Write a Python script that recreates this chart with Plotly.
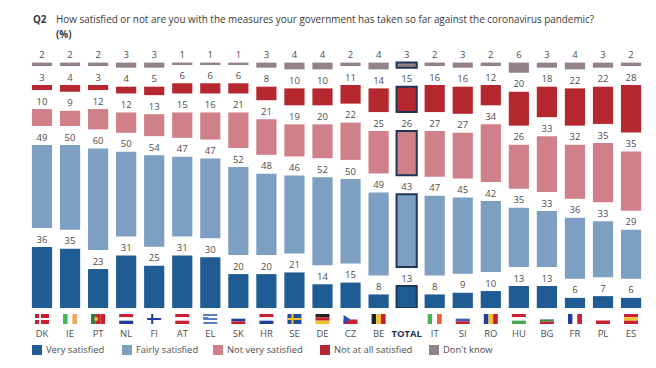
import plotly.graph_objects as go

countries = ["DK","IE","PT","NL","FI","AT","EL","SK","HR","SE","DE","CZ","BE","TOTAL","IT","SI","RO","HU","BG","FR","PL","ES"]
very_satisfied = [36,35,23,31,25,31,30,20,20,21,14,15,8,13,8,9,10,13,13,6,7,6]
fairly_satisfied = [49,50,60,50,54,47,47,52,48,46,52,50,49,43,47,45,42,35,33,36,33,29]
not_very_satisfied = [10,9,12,12,13,15,16,21,21,19,20,22,25,26,27,27,34,26,33,32,35,35]
not_at_all_satisfied = [3,4,3,4,5,6,6,6,8,10,10,11,14,15,16,16,12,20,18,22,22,28]
dont_know = [2,2,2,3,3,1,1,1,3,4,4,2,4,3,2,3,2,6,3,4,3,2]

series_names = ["Very satisfied","Fairly satisfied","Not very satisfied","Not at all satisfied","Don't know"]
series_values = [very_satisfied,fairly_satisfied,not_very_satisfied,not_at_all_satisfied,dont_know]
series_colors = ["#1f5c94","#7c9fc2","#d08088","#b5282f","#93818a"]

TEXT = "#4d4d4d"
NAVY = "#1f3558"
FONT = "Open Sans"
W, H = 656, 368
PX_PER_UNIT = 1.694
GAP = 19 / PX_PER_UNIT
LABEL_LIFT = 2 / PX_PER_UNIT
BASE_PX = 308
X0, PITCH = 42, 28.05

fig = go.Figure()
bases = [0.0] * len(countries)
for name, vals, col in zip(series_names, series_values, series_colors):
    fig.add_trace(go.Bar(
        x=countries, y=vals, base=bases, name=name, width=0.72,
        marker=dict(color=col,
                    line=dict(color=[NAVY if c == "TOTAL" else "rgba(0,0,0,0)" for c in countries],
                              width=[2 if c == "TOTAL" else 0 for c in countries])),
        showlegend=False, hoverinfo="skip"))
    tops = [b + v for b, v in zip(bases, vals)]
    fig.add_trace(go.Scatter(
        x=countries, y=[t + LABEL_LIFT for t in tops], mode="text", text=[str(v) for v in vals],
        textposition="top center", textfont=dict(family=FONT, size=9.5, color=TEXT),
        showlegend=False, hoverinfo="skip", cliponaxis=False))
    bases = [t + GAP for t in tops]

ticktext = [f'<b><span style="color:{NAVY}">{c}</span></b>' if c == "TOTAL" else c for c in countries]
fig.update_xaxes(type="category", categoryorder="array", categoryarray=countries,
                 range=[-X0 / PITCH, (W - X0) / PITCH], tickmode="array", tickvals=countries,
                 ticktext=ticktext, showgrid=False, zeroline=False, showline=False, ticks="",
                 tickangle=0, ticklabelstandoff=18,
                 tickfont=dict(family=FONT, size=9.5, color=TEXT))
fig.update_yaxes(range=[0, BASE_PX / PX_PER_UNIT], visible=False)

# Flags: stripes listed from top/left
R, W_, B, G, Y, O = "#c8202f", "#ffffff", "#1f3f9a", "#3aa655", "#f2c230", "#f0a050"
flags = {
    "DK": ("h", [R, R]), "IE": ("v", ["#45b555", W_, "#f2a85a"]), "PT": ("v", ["#2c7a3a", R, R]),
    "NL": ("h", [R, W_, B]), "FI": ("h", [W_]), "AT": ("h", [R, W_, R]), "EL": ("h", ["#5d7cc4", W_, "#5d7cc4", W_, "#5d7cc4"]),
    "SK": ("h", [W_, B, R]), "HR": ("h", [R, W_, B]), "SE": ("h", ["#1f4f9a"]), "DE": ("h", ["#222222", R, "#f2c230"]),
    "CZ": ("h", [W_, R]), "BE": ("v", ["#222222", Y, R]), "IT": ("v", ["#45b555", W_, "#e8603c"]),
    "SI": ("h", [W_, "#3b5bb5", R]), "RO": ("v", [B, Y, R]), "HU": ("h", [R, W_, "#45a555"]),
    "BG": ("h", [W_, "#3a8a4a", R]), "FR": ("v", [B, W_, R]), "PL": ("h", [W_, R]), "ES": ("h", [R, Y, R]),
}
heights = {"SK": (316, 324), "CZ": (315, 324), "SI": (316, 324), "BG": (317, 324), "PL": (317, 324)}

def px(x): return x / W
def py(y): return (BASE_PX - y) / BASE_PX

def rect(x0, x1, y0, y1, c):
    return dict(type="rect", xref="paper", yref="paper", x0=px(x0), x1=px(x1),
                y0=py(y1), y1=py(y0), fillcolor=c, line_width=0, layer="above")

shapes = []
for i, c in enumerate(countries):
    if c not in flags:
        continue
    cx = X0 + i * PITCH
    ori, cols = flags[c]
    t, b = heights.get(c, (314, 324))
    l, r = cx - 7, cx + 7
    n = len(cols)
    for k, col in enumerate(cols):
        if ori == "h":
            shapes.append(rect(l, r, t + (b - t) * k / n, t + (b - t) * (k + 1) / n, col))
        else:
            shapes.append(rect(l + 14 * k / n, l + 14 * (k + 1) / n, t, b, col))
    if c == "DK":
        shapes += [rect(l, r, 318, 320, W_), rect(cx - 3, cx - 1, t, b, W_)]
    if c == "FI":
        shapes += [rect(l, r, 318, 320, "#1f3f9a"), rect(cx - 3, cx - 1, t, b, "#1f3f9a")]
    if c == "SE":
        shapes += [rect(l, r, 318, 320, "#f2c230"), rect(cx - 3, cx - 1, t, b, "#f2c230")]
    if c == "EL":
        shapes += [rect(l, cx - 2, t, 319, "#5d7cc4"), rect(l, cx - 2, 316, 317, W_)]
    if c == "CZ":
        shapes.append(dict(type="path", xref="paper", yref="paper", line_width=0, fillcolor="#2a4fa5", layer="above",
                           path=f"M {px(l)} {py(t)} L {px(cx)} {py((t+b)/2)} L {px(l)} {py(b)} Z"))
    if c == "PT":
        shapes.append(dict(type="circle", xref="paper", yref="paper", x0=px(cx-4), x1=px(cx), y0=py(321), y1=py(317),
                           fillcolor="#e8c040", line_width=0, layer="above"))

annotations = [
    dict(text="<b>Q2</b>", x=px(31), y=py(19), xanchor="left", yanchor="middle"),
    dict(text="How satisfied or not are you with the measures your government has taken so far against the coronavirus pandemic?",
         x=px(54), y=py(19), xanchor="left", yanchor="middle"),
    dict(text="<b>(%)</b>", x=px(54), y=py(34), xanchor="left", yanchor="middle"),
]
for a in annotations:
    a.update(xref="paper", yref="paper", showarrow=False, font=dict(family=FONT, size=9.9, color="#3a3a3a"))

legend_x = [32, 122, 213, 320, 429]
for lx, name, col in zip(legend_x, series_names, series_colors):
    shapes.append(rect(lx, lx + 10, 345, 355, col))
    annotations.append(dict(text=name, x=px(lx + 12), y=py(350), xref="paper", yref="paper", xanchor="left",
                            yanchor="middle", showarrow=False, font=dict(family=FONT, size=9.4, color=TEXT)))

fig.update_layout(width=W, height=H, margin=dict(l=0, r=0, t=0, b=H - BASE_PX, pad=0), autosize=False,
                  barmode="overlay", paper_bgcolor="white", plot_bgcolor="white",
                  shapes=shapes, annotations=annotations, showlegend=False)
fig.write_html("out.html", config={"displayModeBar": False},
               post_script="document.body.style.margin='0';document.documentElement.style.overflow='hidden';")
